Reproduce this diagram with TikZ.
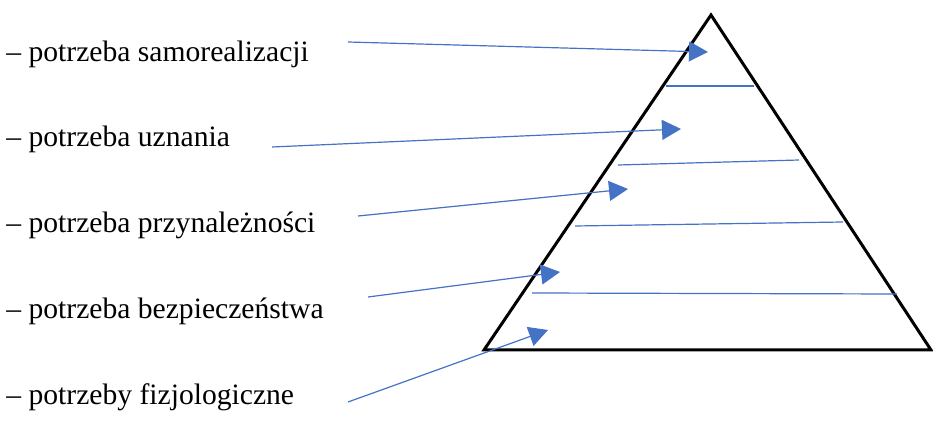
\documentclass[tikz,border=0pt]{standalone}
\usepackage{fontspec}
\setmainfont{Liberation Serif}
\usetikzlibrary{arrows.meta,positioning}
\definecolor{arrowblue}{HTML}{4472C4}

\begin{document}
\begin{tikzpicture}[x=0.5pt, y=-0.5pt,
    need/.style={anchor=base west, inner sep=0pt, font=\fontsize{14.8}{17}\selectfont},
    arrow/.style={-{Triangle[length=9.5pt, width=10pt]}, arrowblue, line width=0.6pt},
    level/.style={arrowblue, line width=0.6pt},
    pyramid/.style={draw=black, line width=1.5pt, line join=miter}
]
\useasboundingbox (0,0) rectangle (933,438);

% The pyramid
\coordinate (apex) at (711,15);
\coordinate (bl) at (484,350);
\coordinate (br) at (931,350);
\draw[pyramid] (apex) -- (br) -- (bl) -- cycle;

% Level separators
\draw[level] (666,86) coordinate (s1a) -- (754,86) coordinate (s1b);
\draw[level] (618,165) coordinate (s2a) -- (799,160) coordinate (s2b);
\draw[level] (575,226) coordinate (s3a) -- (843,222) coordinate (s3b);
\draw[level] (532,293) coordinate (s4a) -- (897,294) coordinate (s4b);

% Needs
\node[need] (self) at (6,62) {– potrzeba samorealizacji};
\node[need] (esteem) at (6,147) {– potrzeba uznania};
\node[need] (love) at (6,233) {– potrzeba przynależności};
\node[need] (safety) at (6,319) {– potrzeba bezpieczeństwa};
\node[need] (physio) at (6,405) {– potrzeby fizjologiczne};

% Targets inside the pyramid
\coordinate (t1) at (708,52);
\coordinate (t2) at (681,129);
\coordinate (t3) at (628,189);
\coordinate (t4) at (560,272);
\coordinate (t5) at (548,330);

% Arrows
\draw[arrow] (348,42) coordinate (a1) -- (t1);
\draw[arrow] (272,147) coordinate (a2) -- (t2);
\draw[arrow] (358,216) coordinate (a3) -- (t3);
\draw[arrow] (368,297) coordinate (a4) -- (t4);
\draw[arrow] (348,402) coordinate (a5) -- (t5);

\end{tikzpicture}
\end{document}
